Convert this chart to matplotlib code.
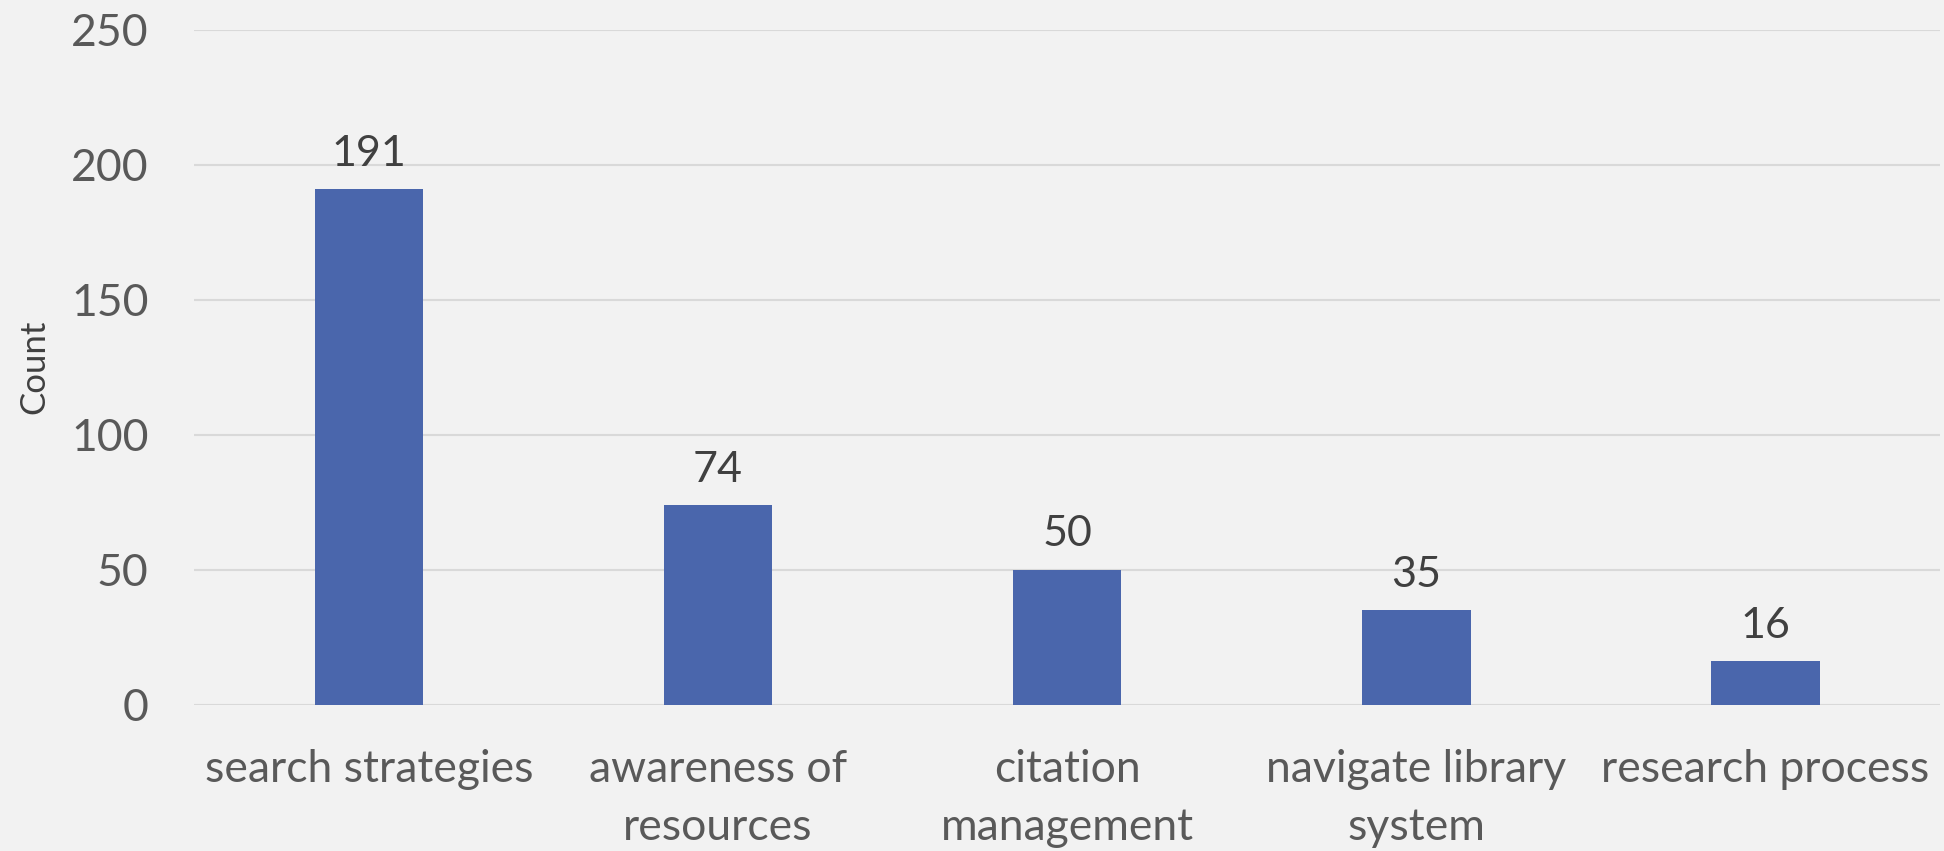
import numpy as np
import matplotlib.pyplot as plt

categories = ["search strategies", "awareness of\nresources", "citation\nmanagement",
              "navigate library\nsystem", "research process"]
counts = [191, 74, 50, 35, 16]
yticks = [0, 50, 100, 150, 200, 250]

bg = "#F2F2F2"
bar_color = "#4A66AC"

plt.rcParams['font.family'] = ['Lato', 'DejaVu Sans']

fig = plt.figure(figsize=(19.44, 8.51), dpi=100, facecolor=bg)
ax = fig.add_axes([0.100, 0.172, 0.898, 0.793])
ax.set_facecolor(bg)

x = np.arange(len(categories))
ax.bar(x, counts, width=0.31, color=bar_color, zorder=3)

for xi, c in zip(x, counts):
    ax.text(xi, c + 6, str(c), ha="center", va="bottom", fontsize=31, color="#404040")

ax.set_xlim(-0.5, len(categories) - 0.5)
ax.set_ylim(0, 250)
ax.set_yticks(yticks)
ax.set_xticks(x)
ax.set_xticklabels(categories, fontsize=32, color="#595959", linespacing=1.5)
ax.tick_params(axis="y", labelsize=32, labelcolor="#595959", length=0, pad=33)
ax.tick_params(axis="x", length=0, pad=32)
ax.grid(axis="y", color="#D9D9D9", linewidth=1.5, zorder=0)
for s in ax.spines.values():
    s.set_visible(False)
ax.set_ylabel("Count", fontsize=25, color="#404040", labelpad=15)

fig.savefig("out.png", dpi=100, facecolor=bg)
